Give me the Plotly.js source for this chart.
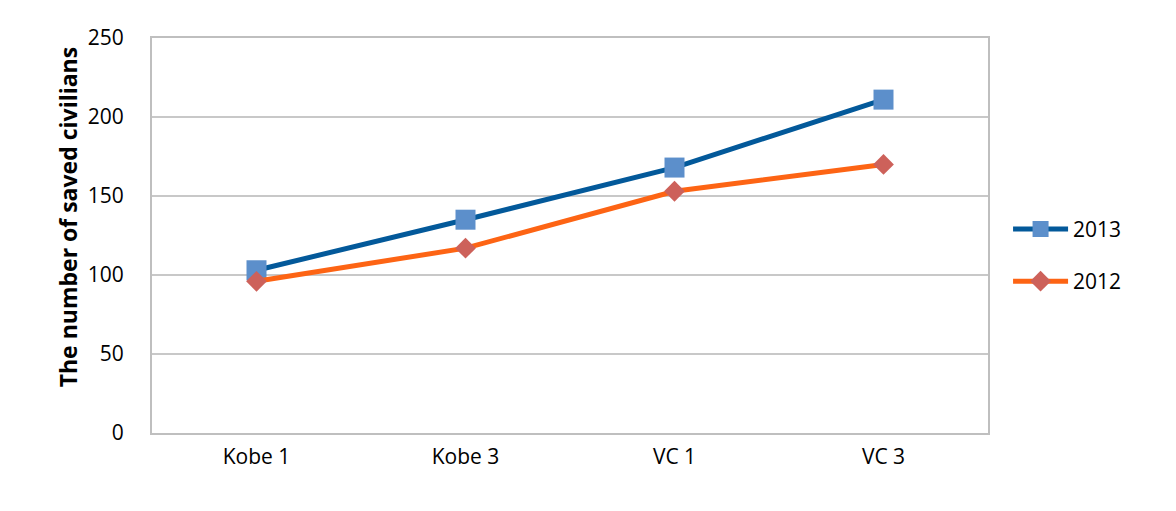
<!DOCTYPE html>
<html>
<head>
<meta charset="utf-8">
<script src="https://cdn.plot.ly/plotly-3.0.1.min.js"></script>
<style>
  html, body { margin: 0; padding: 0; background: #fff; }
  #chart { width: 1176px; height: 511px; }
</style>
</head>
<body>
<div id="chart"></div>
<script>
const categories = ['Kobe 1', 'Kobe 3', 'VC 1', 'VC 3'];
const saved2013 = [103, 135, 168, 211];
const saved2012 = [96, 117, 153, 170];
const yTicks = [0, 50, 100, 150, 200, 250];
const yTitle = 'The number of saved civilians';

const font = { family: '"Open Sans", Calibri, sans-serif', size: 21, color: '#000' };

const traces = [
  {
    x: categories, y: saved2013, name: '2013', legendgroup: 'a', type: 'scatter', mode: 'lines+markers',
    line: { color: '#03599A', width: 5 },
    marker: { symbol: 'square', size: 20, color: '#5C8FCB' }
  },
  {
    x: categories, y: saved2012, name: '2012', legendgroup: 'b', type: 'scatter', mode: 'lines+markers',
    line: { color: '#FD6414', width: 5 },
    marker: { symbol: 'diamond', size: 16, color: '#CD615A' }
  }
];

const layout = {
  width: 1176, height: 511,
  paper_bgcolor: '#fff', plot_bgcolor: '#fff',
  font: font,
  margin: { l: 152, r: 188, t: 38, b: 78 },
  showlegend: true,
  legend: { x: 1.024, xanchor: 'left', y: 0.45, yanchor: 'middle', tracegroupgap: 22, itemwidth: 55, font: { size: 21 } },
  xaxis: {
    type: 'category', range: [-0.5, 3.5],
    showline: true, mirror: true, linecolor: '#BFBFBF', linewidth: 2,
    showgrid: false, ticks: '', ticklabelstandoff: 4, tickfont: { size: 21 }
  },
  yaxis: {
    range: [0, 250], tickvals: yTicks,
    showline: true, mirror: true, linecolor: '#BFBFBF', linewidth: 2,
    gridcolor: '#C8C8C8', gridwidth: 1.5, zeroline: false,
    ticks: '', ticklabelstandoff: 22, tickfont: { size: 21 }
  },
  // Excel places the axis title a little above the plot centre, so use an annotation
  annotations: [{
    text: '<b>' + yTitle + '</b>', textangle: -90, showarrow: false,
    xref: 'paper', yref: 'paper', x: -0.1005, y: 0.546, xanchor: 'center', yanchor: 'middle',
    font: { size: 23 }
  }]
};

Plotly.newPlot('chart', traces, layout, { displayModeBar: false, staticPlot: true });
</script>
</body>
</html>
